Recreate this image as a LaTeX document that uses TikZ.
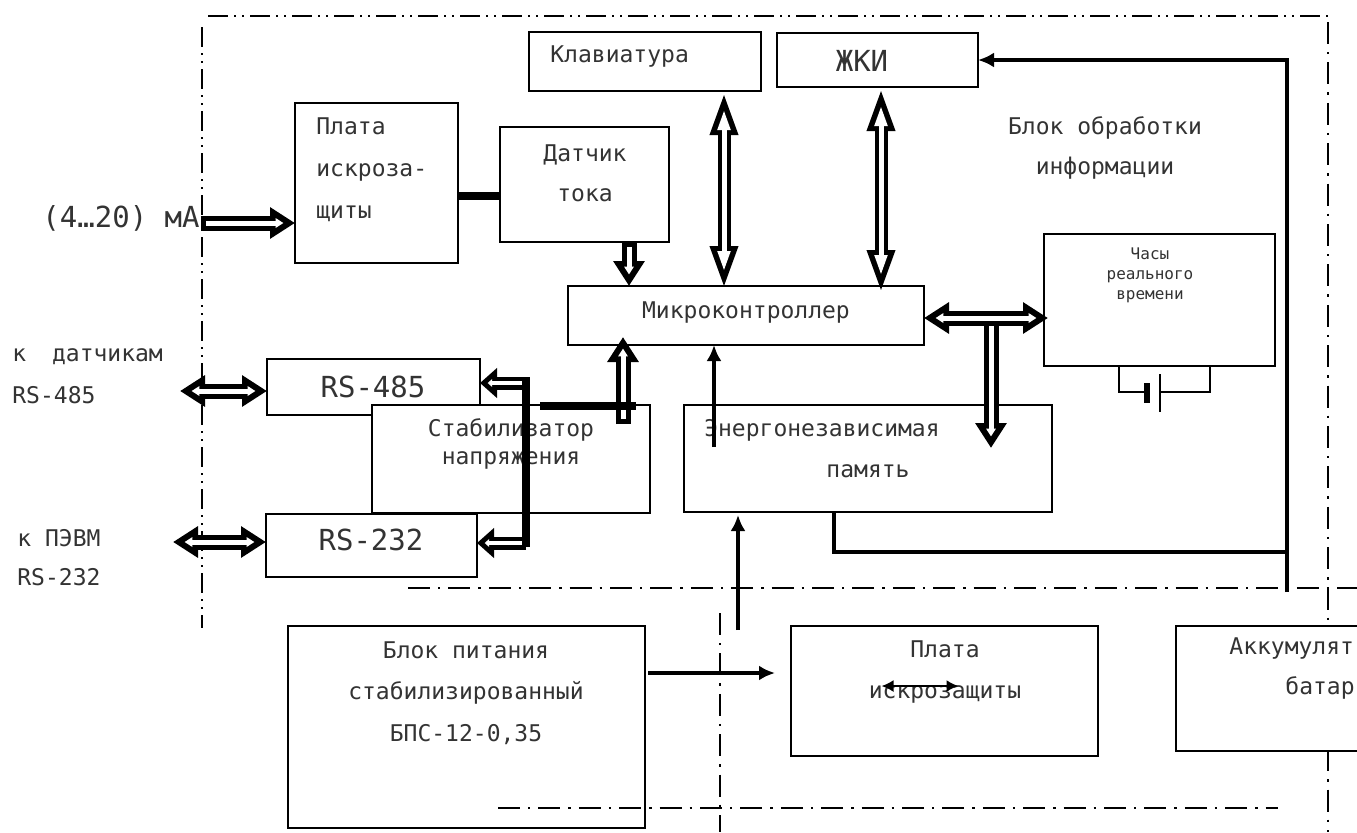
\documentclass[tikz,border=0pt]{standalone}
\usepackage{fontspec}
\setmainfont{DejaVu Sans Mono}
\usetikzlibrary{arrows.meta, positioning, calc, fit}

\tikzset{
  portout/.tip={Triangle[length=12.5pt,width=15pt]},
  portin/.tip={Triangle[length=3.9pt,width=4.7pt]},
  busout/.tip={Triangle[length=22pt,width=12.5pt]},
  busin/.tip={Triangle[length=10.3pt,width=5.9pt]},
  stubout/.tip={Triangle[length=8.5pt,width=14.5pt]},
  stubin/.tip={Triangle[length=2.2pt,width=3.8pt]},
  solidtip/.tip={Latex[length=8pt,width=7.5pt]},
}

\begin{document}
\begin{tikzpicture}[
    x=0.5pt, y=-0.5pt,
    box/.style={draw, line width=0.8pt, fill=white, inner sep=0pt, outer sep=0pt},
    lbl/.style={inner sep=0pt, align=center, text=black!80, font={\fontsize{11.5}{20}\selectfont}},
    biglbl/.style={lbl, font={\fontsize{14.5}{17}\selectfont}},
    smalllbl/.style={lbl, font={\fontsize{8}{10}\selectfont}},
    frame/.style={line width=1.2pt, dash pattern=on 10pt off 3pt on 1pt off 3pt on 1pt off 3pt},
    sect/.style={line width=1.2pt, dash pattern=on 11pt off 4pt on 1.2pt off 4pt},
    heavy/.style={line width=3.6pt},
    wire/.style={line width=1.7pt},
    portfwd/.style={draw=white, line width=2.5pt, -{portin}, shorten <=2.5pt, shorten >=5.8pt,
      preaction={draw=black, line width=7.5pt, -{portout}, shorten <=0pt, shorten >=0pt}},
    portboth/.style={draw=white, line width=2.5pt, {portin}-{portin}, shorten <=5.8pt, shorten >=5.8pt,
      preaction={draw=black, line width=7.5pt, {portout}-{portout}, shorten <=0pt, shorten >=0pt}},
    busboth/.style={draw=white, line width=2.5pt, {busin}-{busin}, shorten <=9.2pt, shorten >=9.2pt,
      preaction={draw=black, line width=6.5pt, {busout}-{busout}, shorten <=0pt, shorten >=0pt}},
    stubfwd/.style={draw=white, line width=2pt, -{stubin}, shorten <=2.25pt, shorten >=3.85pt,
      preaction={draw=black, line width=6.5pt, -{stubout}, shorten <=0pt, shorten >=0pt}},
]
\useasboundingbox (0,0) rectangle (1357,832);
\clip (0,0) rectangle (1357,832);
\fill[white] (0,0) rectangle (1357,832);

% --- unit borders ---
\draw[frame] (208,16) -- (1328,16);
\draw[frame] (202,27) -- (202,628);
\draw[sect] (1328,22) -- (1328,832);
\draw[sect] (408,588) -- (1357,588);
\draw[sect] (720,613) -- (720,832);

% --- processing unit ---
\node[box, fit={(295,103) (458,263)}] (pzin) {};
\node[lbl, anchor=west, align=left, font={\fontsize{11.5}{21}\selectfont}] (pzinlbl) at (316,170) {Плата\\искроза-\\щиты};
\node[box, fit={(500,127) (669,242)}] (dt) {};
\node[lbl] (dtlbl) at (585,173) {Датчик\\тока};
\node[box, fit={(529,32) (761,91)}] (kbd) {};
\node[lbl, anchor=west] (kbdlbl) at (550,57) {Клавиатура};
\node[box, fit={(777,33) (978,87)}] (lcd) {};
\node[biglbl] (lcdlbl) at (862,61) {ЖКИ};
\node[lbl] (tproc) at (1105,148) {Блок обработки\\информации};
\node[box, fit={(568,286) (924,345)}] (mcu) {};
\node[lbl] (mculbl) at (746,312) {Микроконтроллер};
\node[box, fit={(1044,234) (1275,366)}] (rtc) {};
\node[smalllbl] (rtclbl) at (1150,275) {Часы\\реального\\времени};
\node[box, fit={(267,359) (480,415)}] (rs485) {};
\node[biglbl] (rs485lbl) at (373,387) {RS-485};
\node[box, fit={(372,405) (650,513)}] (stab) {};
\node[lbl, font={\fontsize{11.5}{14}\selectfont}] (stablbl) at (511,444) {Стабилизатор\\напряжения};
\node[box, fit={(266,514) (477,577)}] (rs232) {};
\node[biglbl] (rs232lbl) at (371,540) {RS-232};
\node[box, fit={(684,405) (1052,512)}] (mem) {};
\node[lbl] (memlbl) at (822,430) {Энергонезависимая};
\node[lbl] (memlbl2) at (868,471) {память};

% --- outside labels ---
\node[biglbl, anchor=east] (tin) at (200,218) {(4…20) мА};
\node[lbl, anchor=west, align=left, font={\fontsize{11.5}{21}\selectfont}] (tsens) at (12,376) {к\kern6pt{} датчикам\\RS-485};
\node[lbl, anchor=west, align=left, font={\fontsize{11.5}{19.5}\selectfont}] (tpc) at (17,558) {к ПЭВМ\\RS-232};

% --- power section ---
\node[box, fit={(288,626) (645,828)}] (psu) {};
\node[lbl, font={\fontsize{11.5}{20.75}\selectfont}] (psulbl) at (466,693) {Блок питания\\стабилизированный\\БПС-12-0,35};
\node[box, fit={(791,626) (1098,756)}] (pzpw) {};
\node[lbl, font={\fontsize{11.5}{20.5}\selectfont}] (pzpwlbl) at (945,672) {Плата\\искрозащиты};
\node[box, fit={(1176,626) (1400,751)}] (acc) {};
\node[lbl, anchor=west] (acclbl) at (1229,648) {Аккумулят};
\node[lbl, anchor=west] (acclbl2) at (1285,688) {батар};
\draw[sect] (498,808) -- (1278,808);

% --- tap points ---
\coordinate (inp) at (201,223);
\coordinate (dtlink) at (480,196);
\coordinate (dtout) at (629,242);
\coordinate (kbdbus) at (724,91);
\coordinate (lcdbus) at (881,88);
\coordinate (rtcbus) at (924,318);
\coordinate (tee) at (991,318);
\coordinate (smcu) at (623,424);
\coordinate (pwrtap) at (540,406);
\coordinate (rsbus) at (526,383);
\coordinate (rsbot) at (526,543);
\coordinate (sensp) at (180,391);
\coordinate (pcp) at (173,542);
\coordinate (memup) at (714,447);
\coordinate (pwrup) at (738,630);
\coordinate (pwout) at (648,673);
\coordinate (memfb) at (834,552);
\coordinate (fbbot) at (1287,592);

% --- buses ---
\draw[portfwd] (inp) -- (inp -| pzin.west);
\draw[heavy] (pzin.east |- dtlink) -- (dt.west |- dtlink);
\draw[portfwd] (dtout) -- (dtout |- mcu.north);
\draw[busboth] (kbd.south -| kbdbus) -- ($(mcu.north -| kbdbus)+(0,4)$);
\draw[busboth] (lcd.south -| lcdbus) -- ($(mcu.north -| lcdbus)+(0,8)$);
\draw[portfwd] (tee) -- ($(tee |- mem.north)+(0,43)$);
\draw[portboth] (mcu.east |- rtcbus) -- ($(rtc.west |- rtcbus)+(4,0)$);
\draw[portfwd] (smcu) -- ($(smcu |- mcu.south)+(0,-8)$);
\draw[heavy] (pwrtap) -- ($(smcu |- pwrtap)+(13,0)$);
\draw[stubfwd] (rsbus) -- (rsbus -| rs485.east);
\draw[stubfwd] (rsbot) -- (rsbot -| rs232.east);
\draw[heavy] ($(rsbus)+(0,-6)$) -- ($(rsbot)+(0,4)$);
\draw[portboth] (sensp) -- (sensp -| rs485.west);
\draw[portboth] (pcp) -- (pcp -| rs232.west);

% --- single lines ---
\draw[wire, -{solidtip}] (memup) -- (memup |- mcu.south);
\draw[wire, -{solidtip}] (pwrup) -- ($(pwrup |- mem.south)+(0,3)$);
\draw[wire, -{solidtip}] (pwout) -- ($(pwout -| pzpw.west)+(-16,0)$);
\draw[line width=1pt, {Latex[length=6pt,width=6pt]}-{Latex[length=6pt,width=6pt]}] ($(pzpw.center)+(-63,-5)$) -- ($(pzpw.center)+(14,-5)$);
\draw[wire] (mem.south -| memfb) |- (fbbot |- memfb);
\draw[wire, -{solidtip}] (fbbot) |- (lcd.east);

% --- backup cell of the clock ---
\draw[line width=1pt] ($(rtc.south)+(-41,0)$) -- ++(0,26) -- ++(28,0);
\draw[line width=3pt] ($(rtc.south)+(-13,17)$) -- ++(0,20);
\draw[line width=1pt] ($(rtc.south)+(0.5,8)$) -- ++(0,38);
\draw[line width=1pt] ($(rtc.south)+(0.5,26)$) -- ++(50,0) -- ++(0,-26);
\end{tikzpicture}
\end{document}
